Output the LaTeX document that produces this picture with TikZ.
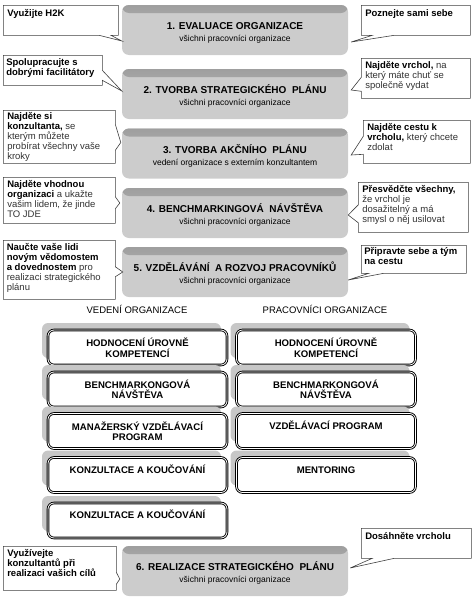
\documentclass[tikz,border=0pt]{standalone}
\usepackage{fontspec}
\setmainfont{Liberation Sans}
\usetikzlibrary{shapes.callouts,shadows,calc}

\newcommand{\tiptext}[3]{\parbox[c][#2][t]{#1}{\raggedright #3}}
\newcommand{\stagetext}[2]{\rule{0pt}{13pt}#1\\{\mdseries\fontsize{8.5}{10}\selectfont #2}}

\begin{document}
\begin{tikzpicture}[x=1pt,y=-1pt,
    stage/.style={fill=black!20, rounded corners=7pt, minimum width=226pt, minimum height=50pt,
      inner sep=0pt, align=center, font=\fontsize{10}{12}\selectfont\bfseries,
      path picture={\fill[top color=black!38, bottom color=black!25]
        ([yshift=1pt]path picture bounding box.north west) rectangle
        ([yshift=-8pt]path picture bounding box.north east);}},
    tip/.style={rectangle callout, draw=black!75, line width=0.6pt, fill=white, anchor=north west,
      inner sep=0pt, callout pointer width=12pt, font=\fontsize{9.5}{10}\selectfont, text=black!80},
    task/.style={draw, line width=0.9pt, double=white, double distance=0.8pt, rounded corners=6pt,
      fill=white, minimum width=179pt, minimum height=35pt, inner sep=2pt, align=center,
      font=\fontsize{9.6}{10.5}\selectfont\bfseries,
      drop shadow={shadow xshift=-6pt, shadow yshift=7pt, fill=black!22, opacity=1}},
    upper/.style={text height=7pt, text depth=11pt},
    head/.style={font=\fontsize{9.5}{11}\selectfont}
  ]
  \useasboundingbox (0,0) rectangle (473,600);

  % stages
  \node[stage] (s1) at (235,30) {\stagetext{1. EVALUACE ORGANIZACE}{všichni pracovníci organizace}};
  \node[stage] (s2) at (235,94) {\stagetext{2. TVORBA STRATEGICKÉHO\ \ PLÁNU}{všichni pracovníci organizace}};
  \node[stage] (s3) at (235,153.5) {\stagetext{3. TVORBA AKČNÍHO\ \ PLÁNU}{vedení organizace s externím konzultantem}};
  \node[stage] (s4) at (235,213) {\stagetext{4. BENCHMARKINGOVÁ\ \ NÁVŠTĚVA}{všichni pracovníci organizace}};
  \node[stage] (s5) at (235,272) {\stagetext{5. VZDĚLÁVÁNÍ\ \ A ROZVOJ PRACOVNÍKŮ}{všichni pracovníci organizace}};
  \node[stage] (s6) at (235,571) {\stagetext{6. REALIZACE STRATEGICKÉHO\ \ PLÁNU}{všichni pracovníci organizace}};

  % left callouts
  \node[tip, minimum width=115pt, minimum height=30pt,
    callout absolute pointer={($(s1.west)+(0,11)$)}] (l1) at (3,5)
    {\tiptext{107pt}{22pt}{\textbf{\color{black}Využijte H2K}}};
  \node[tip, minimum width=99pt, minimum height=30pt, callout pointer width=10pt,
    callout absolute pointer={($(s2.west)+(0,-3)$)}] (l2) at (3,55)
    {\tiptext{93pt}{24pt}{\textbf{\color{black}Spolupracujte s\\dobrými facilitátory}}};
  \node[tip, minimum width=112pt, minimum height=53pt, callout pointer width=26pt,
    callout absolute pointer={($(s3.west)+(-1,-11)$)}] (l3) at (3,110)
    {\tiptext{104pt}{48pt}{\textbf{\color{black}Najděte si\\konzultanta,} se\\kterým můžete\\probírat všechny vaše\\kroky}};
  \node[tip, minimum width=112pt, minimum height=46pt,
    callout absolute pointer={($(s4.west)+(-2,-10)$)}] (l4) at (3,177)
    {\tiptext{104pt}{40pt}{\textbf{\color{black}Najděte vhodnou\\organizaci} a ukažte\\vašim lidem, že jinde\\TO JDE}};
  \node[tip, minimum width=112pt, minimum height=59pt, callout pointer width=10pt,
    callout absolute pointer={($(s5.west)+(1,0)$)}] (l5) at (3,240)
    {\tiptext{105pt}{53pt}{\textbf{\color{black}Naučte vaše lidi\\novým vědomostem\\a dovednostem} pro\\realizaci strategického\\plánu}};
  \node[tip, minimum width=113pt, minimum height=44pt,
    callout absolute pointer={($(s6.west)+(-2,8)$)}] (l6) at (3,546)
    {\tiptext{105pt}{38pt}{\textbf{\color{black}Využívejte\\konzultantů při\\realizaci vašich cílů}}};

  % right callouts
  \node[tip, minimum width=109pt, minimum height=30pt, callout pointer width=22pt,
    callout absolute pointer={($(s1.east)+(3,12)$)}] (r1) at (361,5)
    {\tiptext{101pt}{22pt}{\textbf{\color{black}Poznejte sami sebe}}};
  \node[tip, minimum width=109pt, minimum height=40pt, callout pointer width=14pt,
    callout absolute pointer={($(s2.east)+(3,-4)$)}] (r2) at (361,58)
    {\tiptext{101pt}{34pt}{\textbf{\color{black}Najděte vrchol,} na\\který máte chuť se\\společně vydat}};
  \node[tip, minimum width=107pt, minimum height=43pt, callout pointer width=18pt,
    callout absolute pointer={($(s3.east)+(3,1.5)$)}] (r3) at (363,120)
    {\tiptext{99pt}{37pt}{\textbf{\color{black}Najděte cestu k\\vrcholu,} který chcete\\zdolat}};
  \node[tip, minimum width=110pt, minimum height=50pt, callout pointer width=18pt,
    callout absolute pointer={($(s4.east)+(0,2)$)}] (r4) at (358,182)
    {\tiptext{102pt}{44pt}{\textbf{\color{black}Přesvědčte všechny,}\\že vrchol je\\dosažitelný a má\\smysl o něj usilovat}};
  \node[tip, minimum width=105pt, minimum height=28pt, callout pointer width=15pt,
    callout absolute pointer={($(s5.east)+(0,8)$)}] (r5) at (361,245)
    {\tiptext{99pt}{23pt}{\textbf{\color{black}Připravte sebe a tým\\na cestu}}};
  \node[tip, minimum width=110pt, minimum height=30pt, callout pointer width=22pt,
    callout absolute pointer={($(s6.east)+(2,-3)$)}] (r6) at (361,528)
    {\tiptext{102pt}{22pt}{\textbf{\color{black}Dosáhněte vrcholu}}};

  % two columns
  \node[head] (hv) at (137,309) {VEDENÍ ORGANIZACE};
  \node[head] (hp) at (325,309) {PRACOVNÍCI ORGANIZACE};

  \node[task] (v1) at (137.5,347.5) {HODNOCENÍ ÚROVNĚ\\KOMPETENCÍ};
  \node[task] (v2) at (137.5,389.5) {BENCHMARKONGOVÁ\\NÁVŠTĚVA};
  \node[task] (v3) at (137.5,431) {MANAŽERSKÝ VZDĚLÁVACÍ\\PROGRAM};
  \node[task, upper] (v4) at (137.5,475) {KONZULTACE A KOUČOVÁNÍ};
  \node[task, upper] (v5) at (137.5,520.5) {KONZULTACE A KOUČOVÁNÍ};

  \node[task] (p1) at (326,347.5) {HODNOCENÍ ÚROVNĚ\\KOMPETENCÍ};
  \node[task] (p2) at (326,389.5) {BENCHMARKONGOVÁ\\NÁVŠTĚVA};
  \node[task, upper] (p3) at (326,431) {VZDĚLÁVACÍ PROGRAM};
  \node[task, upper] (p4) at (326,475) {MENTORING};
\end{tikzpicture}
\end{document}
